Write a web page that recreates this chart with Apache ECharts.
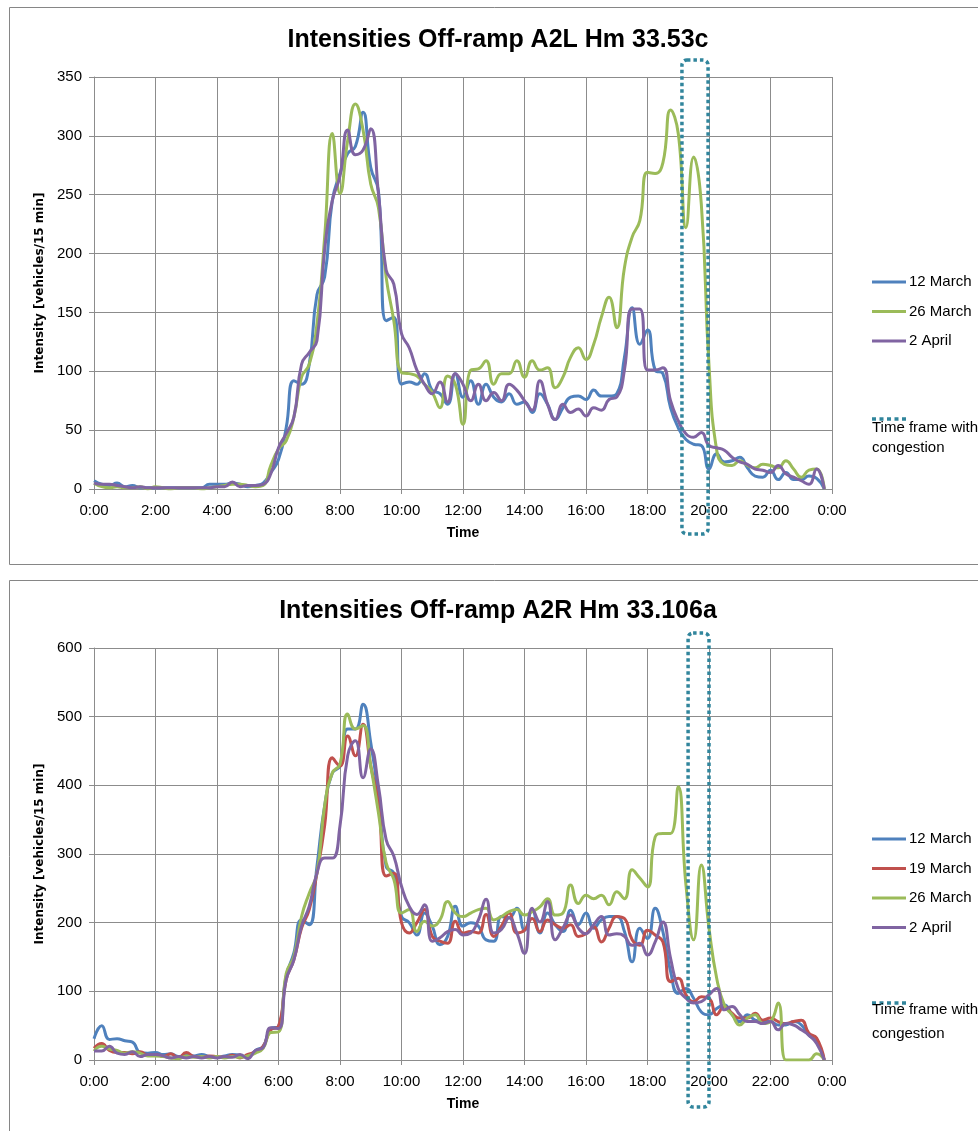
<!DOCTYPE html>
<html>
<head>
<meta charset="utf-8">
<script src="https://cdn.jsdelivr.net/npm/echarts@6/dist/echarts.min.js"></script>
<style>
  html, body { margin: 0; padding: 0; background: #ffffff; }
  #chart { width: 978px; height: 1131px; }
</style>
</head>
<body>
<div id="chart"></div>
<script>
// Off-ramp intensities, vehicles per 15 minutes, one value per quarter hour from 0:00 to 23:45.

const timeTickLabels = ['0:00', '2:00', '4:00', '6:00', '8:00', '10:00', '12:00',
  '14:00', '16:00', '18:00', '20:00', '22:00', '0:00'];

// ---- Off-ramp A2L Hm 33.53c ----
const a2lSeriesNames = ['12 March', '26 March', '2 April'];
const a2lMar12 = [
  7, 4, 3, 5, 2, 3, 1, 1, 1, 1, 1, 1, 1, 1, 1, 4, 4, 4, 5, 4, 2, 3, 5, 14,
  25, 52, 92, 89, 106, 165, 180, 245, 268, 285, 291, 320, 273, 253, 143, 146,
  89, 91, 89, 98, 84, 81, 72, 98, 78, 92, 72, 89, 78, 74, 81, 72,
  74, 65, 81, 72, 59, 69, 78, 79, 76, 84, 79, 79, 81, 112, 154, 123,
  135, 101, 98, 69, 52, 42, 38, 37, 17, 30, 23, 24, 27, 18, 11, 10,
  16, 8, 14, 8, 8, 11, 9, 0
];
const a2lMar26 = [
  5, 2, 1, 2, 1, 1, 2, 0, 2, 1, 0, 1, 1, 1, 0, 1, 2, 3, 4, 4, 3, 2, 3, 20,
  34, 41, 61, 95, 106, 140, 214, 302, 251, 296, 327, 305, 259, 239, 180, 143,
  99, 98, 96, 89, 82, 69, 96, 89, 55, 101, 102, 109, 89, 98, 98, 109,
  95, 109, 101, 103, 86, 95, 112, 120, 110, 123, 146, 163, 137, 188, 214, 228,
  269, 268, 277, 322, 302, 222, 282, 242, 105, 33, 21, 20, 24, 20, 18, 21,
  20, 18, 24, 17, 10, 16, 17, 0
];
const a2lApr2 = [
  5, 4, 4, 3, 2, 1, 2, 1, 1, 1, 1, 1, 1, 1, 1, 1, 2, 2, 6, 2, 3, 3, 4, 13,
  35, 47, 61, 106, 116, 126, 203, 245, 266, 305, 284, 288, 306, 251, 186, 174,
  132, 120, 101, 89, 81, 91, 74, 98, 89, 75, 89, 75, 82, 75, 89, 84,
  75, 67, 92, 72, 59, 72, 65, 68, 62, 69, 67, 76, 78, 101, 153, 153,
  101, 101, 103, 75, 58, 47, 44, 48, 37, 35, 33, 27, 23, 21, 17, 16,
  14, 20, 13, 10, 7, 4, 17, 0
];

// ---- Off-ramp A2R Hm 33.106a ----
const a2rSeriesNames = ['12 March', '19 March', '26 March', '2 April'];
const a2rMar12 = [
  31, 50, 30, 31, 28, 26, 11, 10, 11, 8, 9, 5, 7, 6, 8, 5, 4, 6, 8, 7, 4, 14, 20, 46,
  49, 122, 156, 204, 197, 282, 370, 418, 428, 482, 482, 518, 462, 384, 282, 272,
  209, 200, 182, 214, 195, 168, 180, 224, 195, 200, 195, 175, 173, 209, 207, 221,
  189, 218, 185, 214, 197, 187, 218, 197, 214, 192, 204, 209, 209, 187, 143, 192,
  177, 221, 187, 129, 97, 104, 90, 70, 66, 75, 80, 66, 56, 66, 58, 56,
  56, 51, 51, 56, 51, 36, 27, 0
];
const a2rMar19 = [
  17, 24, 14, 11, 11, 9, 12, 7, 8, 5, 9, 3, 11, 5, 4, 6, 5, 4, 7, 3, 8, 12, 20, 44,
  49, 117, 146, 192, 219, 272, 341, 440, 428, 472, 443, 489, 428, 375, 268, 272,
  200, 185, 200, 219, 180, 173, 170, 202, 185, 187, 185, 212, 180, 195, 214, 185,
  189, 206, 187, 204, 197, 192, 197, 180, 184, 194, 172, 192, 209, 206, 175, 167,
  189, 182, 172, 114, 119, 95, 85, 92, 90, 66, 78, 68, 61, 61, 68, 58,
  61, 56, 53, 56, 58, 39, 32, 0
];
const a2rMar26 = [
  13, 20, 16, 14, 10, 12, 10, 6, 6, 5, 3, 2, 6, 4, 5, 3, 5, 3, 5, 4, 6, 10, 17, 40,
  41, 126, 151, 209, 243, 272, 370, 418, 431, 504, 482, 487, 428, 360, 287, 263,
  214, 219, 187, 202, 195, 204, 231, 214, 209, 214, 219, 221, 204, 209, 216, 219,
  211, 216, 223, 235, 211, 214, 255, 228, 240, 235, 240, 226, 245, 235, 277, 265,
  252, 325, 330, 330, 398, 255, 175, 284, 192, 119, 80, 66, 51, 61, 66, 53,
  56, 83, 0, 0, 0, 0, 9, 0
];
const a2rApr2 = [
  13, 13, 20, 10, 8, 12, 5, 8, 8, 6, 3, 5, 3, 5, 3, 5, 3, 5, 4, 8, 2, 14, 18, 47,
  46, 117, 146, 195, 224, 272, 294, 294, 341, 443, 465, 411, 453, 399, 321, 297,
  253, 224, 212, 226, 173, 178, 187, 190, 182, 185, 204, 234, 185, 190, 207, 185,
  155, 221, 201, 231, 175, 192, 211, 192, 184, 197, 209, 182, 184, 180, 167, 170,
  153, 172, 201, 148, 104, 90, 83, 85, 95, 104, 73, 78, 66, 56, 56, 53,
  56, 44, 53, 51, 44, 36, 24, 0
];

// Congestion windows, in hours of the day
const a2lCongestion = [19.12, 19.97];
const a2rCongestion = [19.32, 20.0];

const COLORS = {
  '12 March': '#4F81BD',
  '19 March': '#C0504D',
  '26 March': '#9BBB59',
  '2 April': '#8064A2'
};
const CONGESTION_COLOR = '#31859C';
const GRID_COLOR = '#8C8C8C';
const FONT = 'Liberation Sans, Arial, sans-serif';

function quarterHourPairs(values) {
  return values.map((v, i) => [i * 0.25, v]);
}

function lineSeries(name, values, axisIndex) {
  return {
    name: name,
    type: 'line',
    xAxisIndex: axisIndex,
    yAxisIndex: axisIndex,
    data: quarterHourPairs(values),
    smooth: 0.5,
    symbol: 'none',
    showSymbol: false,
    lineStyle: { color: COLORS[name], width: 3 },
    itemStyle: { color: COLORS[name] },
    z: 3
  };
}

function timeAxis(gridIndex) {
  return {
    type: 'value',
    gridIndex: gridIndex,
    min: 0, max: 24, interval: 2,
    name: 'Time',
    nameLocation: 'middle',
    nameGap: 37,
    nameTextStyle: { fontFamily: FONT, fontWeight: 'bold', fontSize: 14, color: '#000' },
    axisLine: { show: true, lineStyle: { color: GRID_COLOR, width: 1 } },
    axisTick: { show: true, length: 5, lineStyle: { color: GRID_COLOR } },
    splitLine: { show: true, lineStyle: { color: GRID_COLOR, width: 1 } },
    axisLabel: {
      margin: 14,
      fontFamily: FONT, fontSize: 15, color: '#000',
      formatter: v => timeTickLabels[Math.round(v / 2)]
    }
  };
}

function valueAxis(gridIndex, max, interval) {
  return {
    type: 'value',
    gridIndex: gridIndex,
    min: 0, max: max, interval: interval,
    name: 'Intensity [vehicles/15 min]',
    nameLocation: 'middle',
    nameGap: 48,
    nameTextStyle: { fontFamily: 'DejaVu Sans', fontWeight: 'bold', fontSize: 12, color: '#000' },
    axisLine: { show: true, lineStyle: { color: GRID_COLOR, width: 1 } },
    axisTick: { show: true, length: 5, lineStyle: { color: GRID_COLOR } },
    splitLine: { show: true, lineStyle: { color: GRID_COLOR, width: 1 } },
    axisLabel: { margin: 12, fontFamily: FONT, fontSize: 15, color: '#000' }
  };
}

function legendBlock(names, top) {
  return {
    data: names,
    orient: 'vertical',
    left: 872,
    top: top,
    padding: 0,
    icon: 'rect',
    itemWidth: 34,
    itemHeight: 3,
    itemGap: 11.5,
    selectedMode: false,
    textStyle: { fontFamily: FONT, fontSize: 15, color: '#000', lineHeight: 18, padding: [0, 0, 0, -2] }
  };
}

const grids = [
  { left: 94, top: 77, width: 738, height: 412 },
  { left: 94, top: 648, width: 738, height: 412 }
];

const chart = echarts.init(document.getElementById('chart'), null, { renderer: 'canvas' });

chart.setOption({
  animation: false,
  backgroundColor: '#ffffff',
  grid: grids,
  xAxis: [timeAxis(0), timeAxis(1)],
  yAxis: [valueAxis(0, 350, 50), valueAxis(1, 600, 100)],
  legend: [legendBlock(a2lSeriesNames, 273), legendBlock(a2rSeriesNames, 830)],
  series: [
    lineSeries('12 March', a2lMar12, 0),
    lineSeries('26 March', a2lMar26, 0),
    lineSeries('2 April', a2lApr2, 0),
    lineSeries('12 March', a2rMar12, 1),
    lineSeries('19 March', a2rMar19, 1),
    lineSeries('26 March', a2rMar26, 1),
    lineSeries('2 April', a2rApr2, 1)
  ]
});

// Frames, titles, congestion windows and the congestion legend entry
function congestionRect(axisIndex, window, yMax, above, below) {
  const x1 = chart.convertToPixel({ xAxisIndex: axisIndex }, window[0]);
  const x2 = chart.convertToPixel({ xAxisIndex: axisIndex }, window[1]);
  const yTop = chart.convertToPixel({ yAxisIndex: axisIndex }, yMax) - above;
  const yBottom = chart.convertToPixel({ yAxisIndex: axisIndex }, 0) + below;
  return {
    type: 'rect',
    shape: { x: x1, y: yTop, width: x2 - x1, height: yBottom - yTop, r: 5 },
    style: { fill: null, stroke: CONGESTION_COLOR, lineWidth: 3.5, lineDash: [3.5, 3] },
    z: 20
  };
}

function congestionLegend(lineY, lineHeight) {
  return [
    {
      type: 'line',
      shape: { x1: 872, y1: lineY, x2: 907, y2: lineY },
      style: { stroke: CONGESTION_COLOR, lineWidth: 3.5, lineDash: [4, 3.5], lineCap: 'butt' },
      z: 20
    },
    {
      type: 'text',
      x: 872, y: lineY + 19,
      style: {
        text: 'Time frame with\ncongestion',
        font: '15px ' + FONT,
        fill: '#000',
        textAlign: 'left',
        textVerticalAlign: 'middle',
        lineHeight: lineHeight
      },
      z: 20
    }
  ];
}

function titleText(text, y) {
  return {
    type: 'text',
    x: 498, y: y,
    style: {
      text: text,
      font: 'bold 25px ' + FONT,
      fill: '#000',
      textAlign: 'center',
      textVerticalAlign: 'middle'
    },
    z: 20
  };
}

chart.setOption({
  graphic: [
    { type: 'rect', shape: { x: 9.5, y: 7.5, width: 1000, height: 557 },
      style: { fill: null, stroke: '#868686', lineWidth: 1 }, z: 0 },
    { type: 'rect', shape: { x: 9.5, y: 580.5, width: 1000, height: 600 },
      style: { fill: null, stroke: '#868686', lineWidth: 1 }, z: 0 },
    titleText('Intensities Off-ramp A2L Hm 33.53c', 40),
    titleText('Intensities Off-ramp A2R Hm 33.106a', 611),
    congestionRect(0, a2lCongestion, 350, 17, 45),
    congestionRect(1, a2rCongestion, 600, 15, 47),
    ...congestionLegend(419, 20),
    ...congestionLegend(1003, 24)
  ]
});
</script>
</body>
</html>
